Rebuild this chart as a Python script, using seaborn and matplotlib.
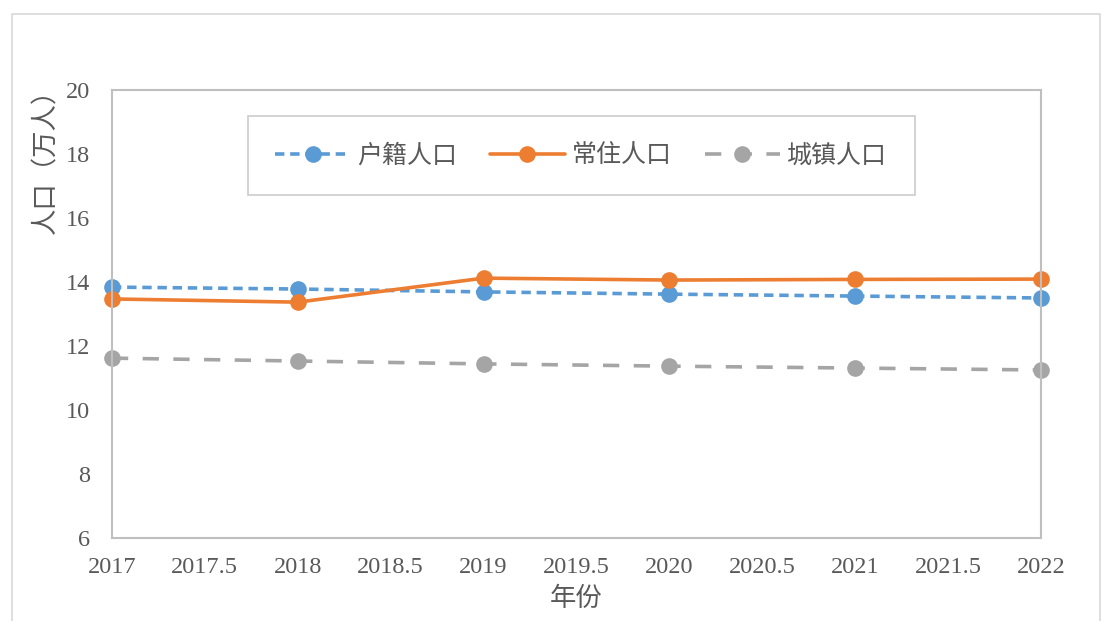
import numpy as np
import pandas as pd
import matplotlib
matplotlib.use("Agg")
import matplotlib.pyplot as plt
import seaborn as sns
from matplotlib.patches import Rectangle

years = [2017, 2018, 2019, 2020, 2021, 2022]
huji = [13.84, 13.78, 13.69, 13.62, 13.56, 13.50]
changzhu = [13.47, 13.37, 14.12, 14.06, 14.08, 14.09]
chengzhen = [11.62, 11.53, 11.44, 11.37, 11.31, 11.25]
series_names = ["户籍人口", "常住人口", "城镇人口"]
colors = ["#5B9BD5", "#ED7D31", "#A5A5A5"]

df = pd.DataFrame({"年份": years, series_names[0]: huji,
                   series_names[1]: changzhu, series_names[2]: chengzhen})
long_df = df.melt(id_vars="年份", var_name="系列", value_name="人口")

sns.set_style("white")
plt.rcParams['font.family'] = ['Liberation Serif', 'Noto Sans CJK SC']
text_col = "#595959"

fig = plt.figure(figsize=(11.02, 6.21), dpi=100)
ax = fig.add_axes([0.1016, 0.1337, 0.8430, 0.7214])

sns.lineplot(data=long_df, x="年份", y="人口", hue="系列", style="系列",
             hue_order=series_names, style_order=series_names,
             palette=dict(zip(series_names, colors)),
             dashes={series_names[0]: (2.6, 1.6), series_names[1]: "",
                     series_names[2]: (4.5, 4.0)},
             markers={n: "o" for n in series_names},
             markersize=12, markeredgewidth=0, linewidth=2.6, ax=ax)
for ln in ax.get_lines():
    ln.set_clip_on(False)

ax.set_xlim(2017, 2022)
ax.set_ylim(6, 20)
ax.set_xticks(np.arange(2017, 2022.01, 0.5))
ax.set_xticklabels([("%g" % v) for v in np.arange(2017, 2022.01, 0.5)])
ax.set_yticks(range(6, 21, 2))
for s in ax.spines.values():
    s.set_color("#BFBFBF")
    s.set_linewidth(1.5)
ax.tick_params(axis="both", direction="in", length=6, color="#BFBFBF",
               width=1, labelsize=17.5, labelcolor=text_col)
ax.tick_params(axis="x", pad=14)
ax.tick_params(axis="y", pad=16)
ax.set_xlabel("年份", fontsize=19, color=text_col, labelpad=0)
ax.set_ylabel("人口（万人）", fontsize=19, color=text_col)
ax.yaxis.set_label_coords(-0.058, 0.855)
ax.xaxis.set_label_coords(0.5, -0.108)

handles, labels = ax.get_legend_handles_labels()
leg = ax.legend(handles, labels, ncol=3, loc="lower left",
                bbox_to_anchor=(0.146, 0.766, 0.718, 0.178), mode="expand",
                fontsize=18, frameon=True, fancybox=False, handlelength=3.0,
                handletextpad=0.3, borderaxespad=0, borderpad=1.1,
                labelcolor=text_col)
leg.get_frame().set_edgecolor("#BFBFBF")
leg.get_frame().set_linewidth(1.2)

fig.patches.append(Rectangle((12 / 1102, -0.05), 1088 / 1102, 1 - 14 / 621 + 0.05,
                             transform=fig.transFigure, fill=False,
                             edgecolor="#D9D9D9", linewidth=1.2))

fig.savefig("out.png", dpi=100)
